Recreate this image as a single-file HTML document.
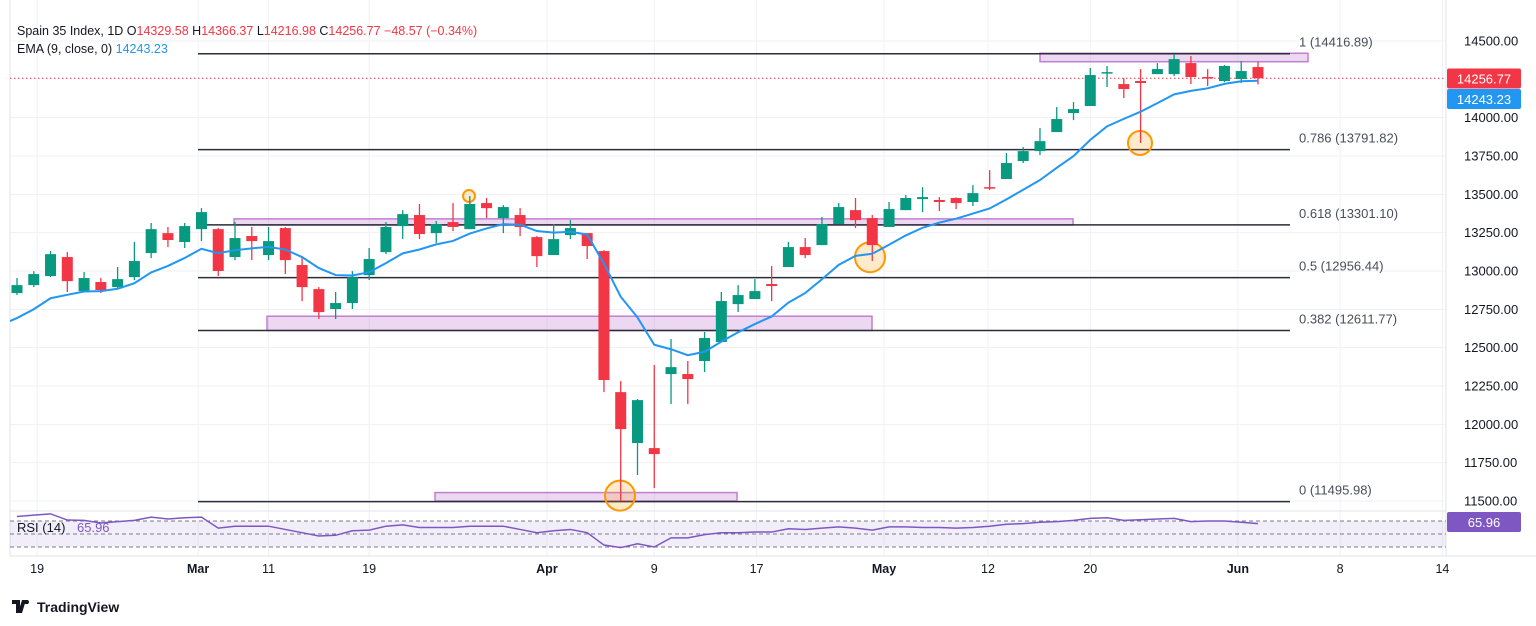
<!DOCTYPE html>
<html><head><meta charset="utf-8">
<style>
body{margin:0;background:#fff;font-family:"Liberation Sans",sans-serif;}
#wrap{position:relative;width:1536px;height:626px;overflow:hidden;}
svg text{font-family:"Liberation Sans",sans-serif;}
</style></head>
<body>
<div id="wrap">
<svg id="chart" width="1536" height="626"></svg>
</div>
<script>
const opens=[12856,12908,12967,13091,12869,12928,12895,12960,13117,13247,13189,13273,13273,13091,13228,13104,13280,13039,12882,12752,12791,12973,13123,13293,13365,13247,13319,13273,13443,13345,13365,13221,13104,13234,13247,13130,12210,11878,11845,12328,12328,12413,12537,12784,12817,12915,13026,13156,13169,13306,13397,13345,13287,13397,13469,13463,13476,13450,13547,13600,13717,13782,13906,14030,14076,14291,14219,14239,14284,14284,14356,14265,14239,14252,14330];
const highs=[12954,12999,13130,13123,12993,12954,13026,13189,13313,13287,13313,13410,13280,13319,13287,13287,13286,13091,12895,12863,12999,13150,13319,13397,13437,13326,13443,13489,13476,13430,13410,13228,13306,13332,13247,13135,12282,12165,12387,12556,12413,12602,12863,12908,12947,13032,13189,13215,13352,13443,13476,13365,13450,13495,13547,13482,13480,13560,13658,13769,13808,13932,14069,14102,14324,14337,14258,14317,14356,14415,14402,14317,14343,14369,14366];
const lows=[12843,12895,12960,12863,12863,12856,12889,12941,13084,13156,13150,13195,12967,13071,13071,13071,12980,12804,12687,12687,12752,12941,13110,13208,13208,13182,13260,13273,13345,13247,13228,13026,13104,13208,13078,12210,11500,11669,11584,12132,12132,12341,12537,12732,12817,12804,13026,13084,13169,13306,13280,13065,13287,13397,13384,13391,13404,13424,13528,13600,13704,13756,13906,13984,14076,14200,14128,13835,14284,14271,14219,14206,14232,14226,14217];
const closes=[12908,12980,13110,12934,12954,12876,12947,13065,13273,13202,13293,13384,13000,13215,13195,13195,13071,12895,12732,12791,12960,13078,13287,13371,13241,13306,13287,13437,13410,13417,13287,13097,13208,13280,13163,12289,11969,12158,11806,12373,12295,12563,12804,12843,12869,12902,13156,13104,13306,13417,13332,13169,13404,13476,13482,13450,13443,13508,13541,13704,13782,13847,13991,14056,14278,14297,14187,14226,14317,14382,14265,14258,14337,14304,14257];
const rsiValues=[77,79,81,71.5,71,67,69,71,76,73,75,76,59,62,62,62,57,52,47,48,55,56,62,64,60,60,60,62,62,62,57,52,55,57,52,33,29,35,30,44,44,49,52,52,53,53,58,57,59,61,59,56,61,61,60,60,59,60,62,65,66,68,69,71,74,75,71,72,73,74,69,70,70,68,66];
const emaSeed=[12693];
const priceTicks=[14500,14000,13750,13500,13250,13000,12750,12500,12250,12000,11750,11500];
const fibLevels=[14416.89,13791.82,13301.10,12956.44,12611.77,11495.98];
const fibLabels=["1 (14416.89)","0.786 (13791.82)","0.618 (13301.10)","0.5 (12956.44)","0.382 (12611.77)","0 (11495.98)"];
const dateLabels=["19","Mar","11","19","Apr","9","17","May","12","20","Jun","8","14"];
const dateIdx=[1.2,10.8,15,21,31.6,38,44.1,51.7,57.9,64,72.8,78.9,85];
const dateBold=[false,true,false,false,true,false,false,true,false,false,true,false,false];

const svg=document.getElementById('chart');
const NS='http://www.w3.org/2000/svg';
function el(t,a,p){const e=document.createElementNS(NS,t);for(const k in a)e.setAttribute(k,a[k]);(p||svg).appendChild(e);return e;}
const y=p=>41+(14500-p)*0.153333;
const x=i=>17+i*16.77;
const ry=v=>534-(v-50)*0.65;
const PR=1446;

// grid
for(let i=0;i<priceTicks.length;i++){
  const g=el('line',{x1:10,x2:PR,y1:y(priceTicks[i]),y2:y(priceTicks[i]),stroke:'#f0f1f4','stroke-width':1});
  
  
  const t=el('text',{x:1464,y:y(priceTicks[i])+4.5,'font-size':13,fill:'#131722'});
  t.textContent=priceTicks[i].toFixed(2);
  
  
}
for(let i=0;i<dateLabels.length;i++){
  const xx=x(dateIdx[i]);
  const g=el('line',{x1:xx,x2:xx,y1:0,y2:556,stroke:'#f0f1f4','stroke-width':1});
  
  
  const t=el('text',{x:xx,y:573,'font-size':12.5,fill:'#131722','text-anchor':'middle','font-weight':dateBold[i]?'bold':'normal'});
  t.textContent=dateLabels[i];
  
  
}
// frame
el('line',{x1:10,x2:10,y1:0,y2:556,stroke:'#e0e3eb'});
el('line',{x1:PR,x2:PR,y1:0,y2:556,stroke:'#e0e3eb'});
el('line',{x1:10,x2:PR,y1:511,y2:511,stroke:'#e0e3eb'});
el('line',{x1:10,x2:1536,y1:556,y2:556,stroke:'#e0e3eb'});

// purple zones
const zones=[[1040,14420,1308,14365],[234,13340,1073,13300],[267,12705,872,12612],[435,11555,737,11500]];
for(const z of zones){
  const r=el('rect',{x:z[0],y:y(z[1]),width:z[2]-z[0],height:y(z[3])-y(z[1]),fill:'rgba(156,39,176,0.18)',stroke:'#c17fd0','stroke-width':1.5});
  
  
}
// fib lines
for(let i=0;i<fibLevels.length;i++){
  const l=el('line',{x1:198,x2:1290,y1:y(fibLevels[i]),y2:y(fibLevels[i]),stroke:'#2a2e39','stroke-width':1.5});
  
  
  const t=el('text',{x:1299,y:y(fibLevels[i])-7,'font-size':13,fill:'#4a4e59'});
  t.textContent=fibLabels[i];
  
  
}
// circles
const circles=[[469,13489,6],[620,11535,15],[870,13090,15],[1140,13835,12]];
for(const c of circles){
  const e=el('circle',{cx:c[0],cy:y(c[1]),r:c[2],fill:'rgba(255,152,0,0.2)',stroke:'#ff9800','stroke-width':2});
  
  
}
// last price line
el('line',{x1:10,x2:PR,y1:y(closes[closes.length-1]),y2:y(closes[closes.length-1]),stroke:'#f23645','stroke-width':1,'stroke-dasharray':'1.5 2.5'});

// candles
for(let i=0;i<opens.length;i++){
  const up=closes[i]>=opens[i];const col=up?'#089981':'#f23645';
  const g=el('g',{});
  
  
  el('line',{x1:x(i),x2:x(i),y1:y(highs[i]),y2:y(lows[i]),stroke:col,'stroke-width':1.3},g);
  const top=y(Math.max(opens[i],closes[i])),bot=y(Math.min(opens[i],closes[i]));
  el('rect',{x:x(i)-5.5,y:top,width:11,height:Math.max(1.5,bot-top),fill:col},g);
}
// EMA
let ema=emaSeed[0];const pts=[];
for(let i=0;i<closes.length;i++){ema=i===0?emaSeed[0]:ema+(closes[i]-ema)*0.2;pts.push([x(i),y(ema)]);}
pts.unshift([10,y(emaSeed[0])+3]);
const emaLine=el('polyline',{points:pts.map(p=>p.join(',')).join(' '),fill:'none',stroke:'#2196f3','stroke-width':2});



// RSI
const band=el('rect',{x:10,y:ry(70),width:PR-10,height:ry(30)-ry(70),fill:'rgba(126,87,194,0.1)'});


for(const v of [70,50,30]){el('line',{x1:10,x2:PR,y1:ry(v),y2:ry(v),stroke:'#787b86','stroke-width':1,'stroke-dasharray':'4 3'});}
const rl=el('polyline',{points:rsiValues.map((v,i)=>x(i)+','+ry(v)).join(' '),fill:'none',stroke:'#7e57c2','stroke-width':1.5});


let t=el('text',{x:17,y:532,'font-size':13,fill:'#131722'});t.textContent='RSI (14)';


t=el('text',{x:77,y:532,'font-size':13,fill:'#7e57c2'});t.textContent='65.96';



// tags
function tag(yc,txt,bg,name){
  const g=el('g',{});
  
  
  el('rect',{x:1447,y:yc-10,width:74,height:20,fill:bg,rx:2},g);
  const tt=el('text',{x:1484,y:yc+5,'font-size':13,fill:'#fff','text-anchor':'middle'},g);tt.textContent=txt;
}
tag(78.5,'14256.77','#f23645','last-price-tag');
tag(99,'14243.23','#2196f3','ema-price-tag');
tag(522,'65.96','#7e57c2','rsi-price-tag');

// header
const h=el('text',{x:17,y:35,'font-size':12.5,fill:'#131722'});


h.innerHTML='Spain 35 Index, 1D  <tspan fill="#131722">O</tspan><tspan fill="#f23645">14329.58</tspan> <tspan>H</tspan><tspan fill="#f23645">14366.37</tspan> <tspan>L</tspan><tspan fill="#f23645">14216.98</tspan> <tspan>C</tspan><tspan fill="#f23645">14256.77 −48.57 (−0.34%)</tspan>';
h.setAttribute('xml:space','preserve');
const h2=el('text',{x:17,y:53,'font-size':12.5,fill:'#131722'});


h2.innerHTML='EMA (9, close, 0)  <tspan fill="#2196f3">14243.23</tspan>';
h2.setAttribute('xml:space','preserve');

// logo
const lg=el('g',{});


el('path',{d:'M12 600h8v13h-4v-9h-4z M22 600h4l-4 13h-4z M27 600a2 2 0 1 0 0.1 0z',fill:'#131722'},lg);
el('rect',{x:24,y:600,width:4,height:4,fill:'#131722'},lg);
const lt=el('text',{x:37,y:612,'font-size':14,fill:'#131722','font-weight':'bold'},lg);lt.textContent='TradingView';
</script>
</body></html>
